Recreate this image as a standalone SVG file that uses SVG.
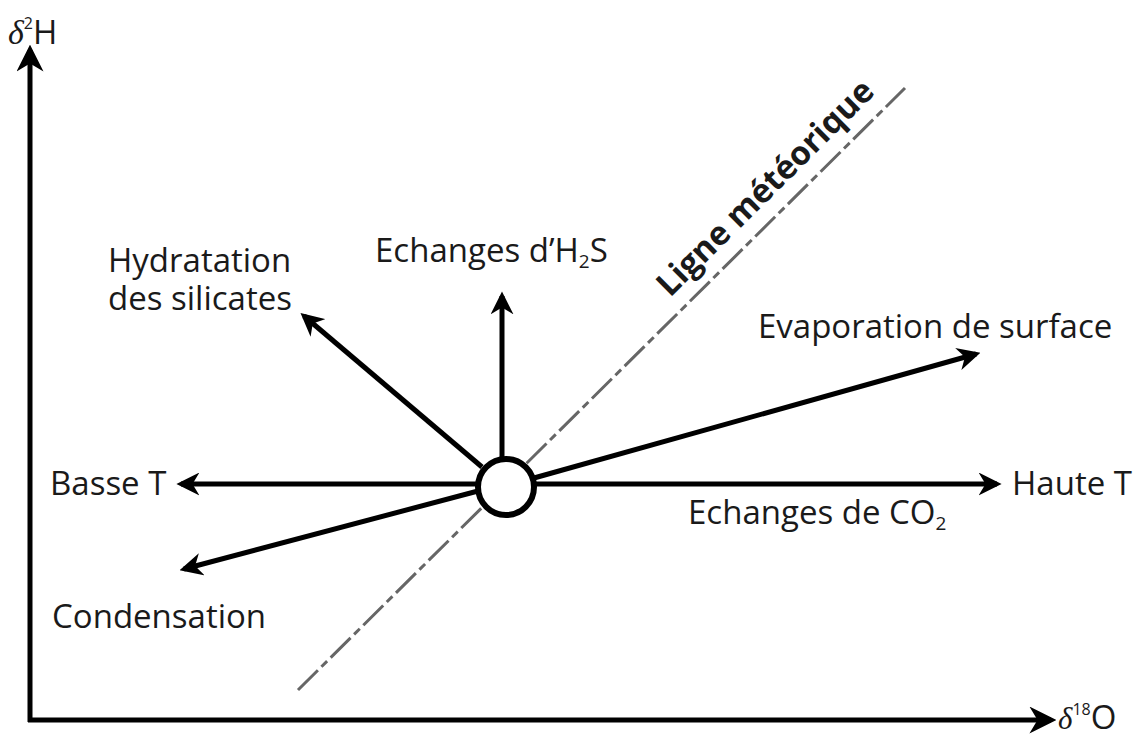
<svg xmlns="http://www.w3.org/2000/svg" width="1138" height="738" viewBox="0 0 1138 738">
<defs>
<style>
.t{font-family:"Open Sans","Noto Sans",sans-serif;font-size:33px;fill:#1a1a1a}
.ax{stroke:#000;stroke-width:5;fill:none;marker-end:url(#ahx)}
.ar{stroke:#000;stroke-width:5;fill:none;marker-end:url(#ah)}
.sub{font-size:19px}
.d{font-family:"Liberation Serif","DejaVu Serif",serif;font-style:italic}
</style>
<marker id="ah" markerWidth="4.6" markerHeight="4.6" viewBox="0 0 10 10" refX="8" refY="5" orient="auto" markerUnits="strokeWidth">
<path d="M0,0 L10,5 L0,10 L3,5 z" fill="#000"/>
</marker>
<marker id="ahx" markerWidth="5.4" markerHeight="5.4" viewBox="0 0 10 10" refX="8" refY="5" orient="auto" markerUnits="strokeWidth">
<path d="M0,0 L10,5 L0,10 L3,5 z" fill="#000"/>
</marker>
</defs>
<rect width="1138" height="738" fill="#fff"/>
<g id="axes">
<path class="ax" d="M30,722 L30,50"/>
<path class="ax" d="M28,720 L1051,720"/>
<text class="t" x="8" y="44" font-size="30"><tspan class="d" font-size="34">δ</tspan><tspan font-size="16" dy="-15">2</tspan><tspan dy="15">H</tspan></text>
<text class="t" x="1058" y="729" font-size="28"><tspan class="d" font-size="31">δ</tspan><tspan font-size="16" dy="-14">18</tspan><tspan dy="14">O</tspan></text>
</g>
<g id="meteoric-line">
<line x1="298" y1="690" x2="905" y2="88" stroke="#666" stroke-width="3" stroke-dasharray="28,5,8,5"/>
<text class="t" font-weight="bold" font-size="37" transform="translate(670,298) rotate(-44.8)">Ligne météorique</text>
</g>
<g id="connectors">
<line class="ar" x1="482" y1="467" x2="304" y2="316"/>
<line class="ar" x1="502" y1="458" x2="502" y2="296"/>
<line class="ar" x1="534" y1="478" x2="976" y2="354"/>
<line class="ar" x1="535" y1="484" x2="997" y2="484"/>
<line class="ar" x1="477" y1="484" x2="181" y2="484"/>
<line class="ar" x1="478" y1="491" x2="184" y2="569"/>
</g>
<g id="origin">
<circle cx="506" cy="487" r="28" fill="#fff" stroke="#000" stroke-width="6"/>
</g>
<g id="hydratation"><text class="t" x="108" y="272">Hydratation<tspan x="108" dy="38">des silicates</tspan></text></g>
<g id="h2s"><text class="t" x="375" y="262">Echanges d’H<tspan class="sub" dy="6">2</tspan><tspan dy="-6">S</tspan></text></g>
<g id="evaporation"><text class="t" x="758" y="338">Evaporation de surface</text></g>
<g id="basse"><text class="t" x="50" y="495">Basse T</text></g>
<g id="haute"><text class="t" x="1012" y="495">Haute T</text></g>
<g id="co2"><text class="t" x="688" y="524">Echanges de CO<tspan class="sub" dy="6">2</tspan></text></g>
<g id="condensation"><text class="t" x="52" y="628">Condensation</text></g>
</svg>
